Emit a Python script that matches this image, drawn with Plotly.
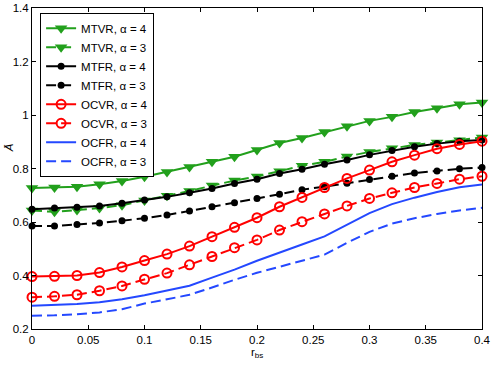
import plotly.graph_objects as go

# r_bs sample points
r_bs = [0.00, 0.02, 0.04, 0.06, 0.08, 0.10, 0.12, 0.14, 0.16, 0.18, 0.20,
        0.22, 0.24, 0.26, 0.28, 0.30, 0.32, 0.34, 0.36, 0.38, 0.40]

mtvr_a4 = [0.727, 0.729, 0.732, 0.741, 0.753, 0.769, 0.787, 0.806, 0.825, 0.844, 0.869,
           0.895, 0.914, 0.936, 0.958, 0.978, 0.993, 1.011, 1.025, 1.040, 1.047]
mtvr_a3 = [0.643, 0.638, 0.645, 0.652, 0.663, 0.680, 0.698, 0.716, 0.736, 0.755, 0.770,
           0.790, 0.810, 0.825, 0.845, 0.862, 0.876, 0.888, 0.897, 0.906, 0.916]
mtfr_a4 = [0.648, 0.652, 0.655, 0.660, 0.670, 0.682, 0.694, 0.709, 0.725, 0.744, 0.760,
           0.781, 0.797, 0.816, 0.832, 0.851, 0.867, 0.881, 0.893, 0.902, 0.907]
mtfr_a3 = [0.585, 0.585, 0.591, 0.596, 0.605, 0.614, 0.626, 0.641, 0.657, 0.672, 0.688,
           0.704, 0.721, 0.732, 0.745, 0.759, 0.771, 0.783, 0.791, 0.799, 0.804]
ocvr_a4 = [0.396, 0.397, 0.400, 0.411, 0.432, 0.456, 0.480, 0.510, 0.545, 0.580, 0.616,
           0.657, 0.692, 0.729, 0.763, 0.794, 0.825, 0.850, 0.874, 0.890, 0.902]
ocvr_a3 = [0.319, 0.322, 0.328, 0.343, 0.361, 0.386, 0.409, 0.440, 0.471, 0.504, 0.533,
           0.570, 0.601, 0.630, 0.660, 0.688, 0.709, 0.729, 0.744, 0.760, 0.771]
ocfr_a4 = [0.287, 0.289, 0.293, 0.300, 0.311, 0.326, 0.344, 0.362, 0.392, 0.422, 0.455,
           0.487, 0.516, 0.546, 0.590, 0.633, 0.667, 0.691, 0.712, 0.730, 0.740]
ocfr_a3 = [0.250, 0.251, 0.255, 0.262, 0.274, 0.295, 0.311, 0.328, 0.355, 0.384, 0.410,
           0.433, 0.457, 0.478, 0.522, 0.563, 0.594, 0.614, 0.630, 0.643, 0.653]

x_ticks = [0, 0.05, 0.1, 0.15, 0.2, 0.25, 0.3, 0.35, 0.4]
x_ticklabels = ["0", "0.05", "0.1", "0.15", "0.2", "0.25", "0.3", "0.35", "0.4"]
y_ticks = [0.2, 0.4, 0.6, 0.8, 1.0, 1.2, 1.4]
y_ticklabels = ["0.2", "0.4", "0.6", "0.8", "1", "1.2", "1.4"]

_GREEN = "#22a01c"
_BLACK = "#000000"
_RED = "#ff0000"
_BLUE = "#2448ff"
_DASH = "10px,5px"

series = [
    ("MTVR, α = 4", mtvr_a4, _GREEN, "solid", dict(symbol="triangle-down", size=11, color=_GREEN)),
    ("MTVR, α = 3", mtvr_a3, _GREEN, _DASH, dict(symbol="triangle-down", size=11, color=_GREEN)),
    ("MTFR, α = 4", mtfr_a4, _BLACK, "solid", dict(symbol="circle", size=7, color=_BLACK)),
    ("MTFR, α = 3", mtfr_a3, _BLACK, _DASH, dict(symbol="circle", size=7, color=_BLACK)),
    ("OCVR, α = 4", ocvr_a4, _RED, "solid",
     dict(symbol="circle-open", size=9, color=_RED, line=dict(width=2, color=_RED))),
    ("OCVR, α = 3", ocvr_a3, _RED, _DASH,
     dict(symbol="circle-open", size=9, color=_RED, line=dict(width=2, color=_RED))),
    ("OCFR, α = 4", ocfr_a4, _BLUE, "solid", None),
    ("OCFR, α = 3", ocfr_a3, _BLUE, _DASH, None),
]

fig = go.Figure()
for name, ys, color, dash, marker in series:
    fig.add_trace(go.Scatter(
        x=r_bs, y=ys, name=name,
        mode="lines+markers" if marker else "lines",
        line=dict(color=color, width=2, dash=dash),
        marker=marker, cliponaxis=False,
    ))

axis_common = dict(showline=True, linecolor="black", linewidth=1, mirror="ticks",
                   ticks="inside", ticklen=4, tickcolor="black", showgrid=False,
                   zeroline=False, automargin=False,
                   tickfont=dict(size=11.5, color="black"))

fig.update_xaxes(range=[0, 0.4], tickvals=x_ticks, ticktext=x_ticklabels, **axis_common)
fig.update_yaxes(range=[0.2, 1.4], tickvals=y_ticks, ticktext=y_ticklabels, **axis_common)

# axis titles as annotations so they sit where the original puts them
fig.add_annotation(text="r<sub>bs</sub>", xref="paper", yref="paper", x=0.5, y=-0.075,
                   xanchor="center", yanchor="middle", showarrow=False,
                   font=dict(size=11.5))
fig.add_annotation(text="<i>Ā</i>", xref="paper", yref="paper", x=-0.052, y=0.565,
                   xanchor="center", yanchor="middle", showarrow=False, textangle=-90,
                   font=dict(size=11.5))

fig.update_layout(
    width=491, height=368,
    margin=dict(l=32, r=9, t=8, b=39),
    paper_bgcolor="white", plot_bgcolor="white",
    font=dict(family="Liberation Sans, Arial, sans-serif", size=11.5, color="black"),
    legend=dict(x=0.018, y=0.985, xanchor="left", yanchor="top",
                bordercolor="black", borderwidth=1, bgcolor="white",
                font=dict(size=11.5), tracegroupgap=0),
    showlegend=True,
)

# page has a default 8px body margin; drop it so the figure fills the window
fig.write_html("out.html", config={"displayModeBar": False},
               post_script="document.body.style.margin='0';")
